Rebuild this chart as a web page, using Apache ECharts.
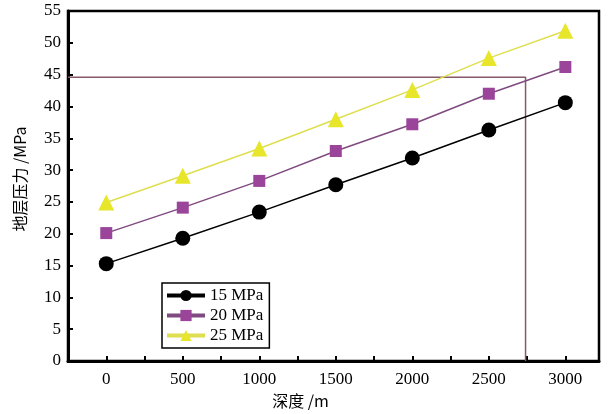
<!DOCTYPE html>
<html><head><meta charset="utf-8">
<script src="https://cdn.jsdelivr.net/npm/echarts@6/dist/echarts.min.js"></script>
<style>html,body{margin:0;padding:0;background:#fff}#c{width:609px;height:414px}</style>
</head><body><div id="c"></div>
<script>
var depths = [0, 500, 1000, 1500, 2000, 2500, 3000];
var p15 = [15.3, 19.3, 23.4, 27.7, 31.9, 36.3, 40.6];
var p20 = [20.1, 24.1, 28.3, 33.0, 37.2, 42.0, 46.2];
var p25 = [24.9, 29.1, 33.4, 38.0, 42.6, 47.6, 51.9];
var refX = [-250, 2740, 2740];
var refY = [44.6, 44.6, 0];
var seriesNames = ['15 MPa', '20 MPa', '25 MPa'];

function pairs(xs, ys){ return xs.map(function(x,i){ return [x, ys[i]]; }); }
var serif = '"Liberation Serif","Times New Roman",serif';
var chart = echarts.init(document.getElementById('c'));
chart.setOption({
  animation: false,
  grid: {left: 68, right: 10, top: 11, bottom: 50, show: true, borderColor: '#000', borderWidth: 2.5},
  legend: {
    left: 162, top: 283, orient: 'vertical', itemGap: 3, itemWidth: 38, itemHeight: 14,
    borderColor: '#000', borderWidth: 1.5, padding: [4, 6, 4, 3], backgroundColor: '#fff',
    lineStyle: {width: 4},
    textStyle: {fontFamily: serif, fontSize: 17, color: '#000'},
    data: seriesNames
  },
  xAxis: {
    type: 'value', min: -250, max: 3220, interval: 250,
    name: '深度 /m', nameLocation: 'middle', nameGap: 32,
    nameTextStyle: {fontFamily: '"Noto Sans CJK SC", ' + serif, fontSize: 16, color: '#000', padding: [0, 66, 0, 0]},
    axisLine: {onZero: false, lineStyle: {color: '#000', width: 3}},
    axisTick: {inside: true, length: 5, lineStyle: {color: '#000', width: 2}},
    splitLine: {show: false},
    axisLabel: {fontFamily: serif, fontSize: 17, color: '#000', margin: 10,
      formatter: function(v){ return (v >= 0 && v % 500 === 0 && v <= 3000) ? String(v) : ''; }}
  },
  yAxis: {
    type: 'value', min: 0, max: 55, interval: 5,
    name: '地层压力 /MPa', nameLocation: 'middle', nameGap: 40,
    nameTextStyle: {fontFamily: '"Noto Sans CJK SC", ' + serif, fontSize: 16, color: '#000', padding: [0, 0, 0, 14]},
    axisLine: {onZero: false, lineStyle: {color: '#000', width: 3}},
    axisTick: {inside: true, length: 5, lineStyle: {color: '#000', width: 2}},
    splitLine: {show: false},
    axisLabel: {fontFamily: serif, fontSize: 17, color: '#000', margin: 7}
  },
  series: [
    {type: 'line', name: 'ref', data: pairs(refX, refY), symbol: 'none', silent: true,
     lineStyle: {color: '#85596a', width: 1.5}, z: 1},
    {type: 'line', name: seriesNames[0], data: pairs(depths, p15), symbol: 'circle', symbolSize: 15,
     itemStyle: {color: '#000'}, lineStyle: {color: '#000', width: 1.5}, z: 3},
    {type: 'line', name: seriesNames[1], data: pairs(depths, p20), symbol: 'rect', symbolSize: 12,
     itemStyle: {color: '#9a449a'}, lineStyle: {color: '#7f4a80', width: 1.5}, z: 3},
    {type: 'line', name: seriesNames[2], data: pairs(depths, p25), symbol: 'triangle', symbolSize: 16,
     itemStyle: {color: '#e8e62a'}, lineStyle: {color: '#dede50', width: 1.5}, z: 3}
  ]
});
</script></body></html>
